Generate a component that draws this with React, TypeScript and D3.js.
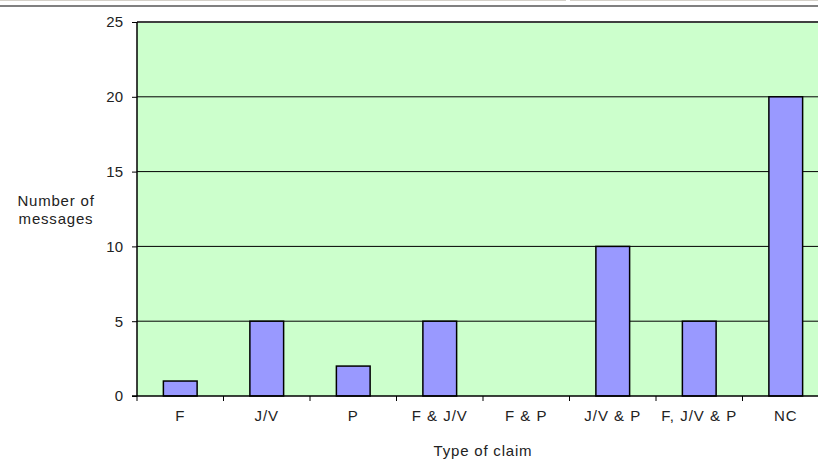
import * as d3 from 'd3'
import { useEffect, useRef } from 'react'

const categories = ['F', 'J/V', 'P', 'F & J/V', 'F & P', 'J/V & P', 'F, J/V & P', 'NC']
const messageCounts = [1, 5, 2, 5, 0, 10, 5, 20]
const yTicks = [0, 5, 10, 15, 20, 25]

const FONT = 'Liberation Sans, Arial, sans-serif'

const App = () => {
  const svgRef = useRef<SVGSVGElement>(null)

  useEffect(() => {
    const width = 818
    const height = 463
    const margin = { top: 22, right: -11, bottom: 67, left: 137 }

    const svg = d3.select(svgRef.current)
    svg.selectAll('*').remove()

    // window frame lines at the top
    svg.append('line').attr('x1', 0).attr('x2', 566).attr('y1', 0.5).attr('y2', 0.5)
      .attr('stroke', '#d4d0c8')
    svg.append('line').attr('x1', 570).attr('x2', width).attr('y1', 0.5).attr('y2', 0.5)
      .attr('stroke', '#d4d0c8')
    svg.append('line').attr('x1', 0).attr('x2', width).attr('y1', 6).attr('y2', 6)
      .attr('stroke', '#808080').attr('stroke-width', 2)

    const x = d3.scaleBand()
      .domain(categories)
      .range([margin.left, width - margin.right])
      .paddingInner(0.61)
      .paddingOuter(0.305)

    const xOuter = d3.scaleBand()
      .domain(categories)
      .range([margin.left, width - margin.right])

    const y = d3.scaleLinear()
      .domain([0, 25])
      .range([height - margin.bottom, margin.top])

    // plot background
    svg.append('rect')
      .attr('x', margin.left)
      .attr('y', y(25))
      .attr('width', width - margin.right - margin.left)
      .attr('height', y(0) - y(25))
      .attr('fill', '#ccffcc')

    // gridlines
    svg.append('g')
      .selectAll('line')
      .data(yTicks.filter(d => d > 0))
      .join('line')
      .attr('x1', margin.left)
      .attr('x2', width)
      .attr('y1', d => y(d))
      .attr('y2', d => y(d))
      .attr('stroke', d => d === 25 ? '#404040' : '#000')
      .attr('stroke-width', d => d === 25 ? 2 : 1)

    // bars
    svg.append('g')
      .selectAll('rect')
      .data(messageCounts)
      .join('rect')
      .attr('x', (d, i) => x(categories[i])!)
      .attr('y', d => y(d))
      .attr('width', x.bandwidth())
      .attr('height', d => y(0) - y(d))
      .attr('fill', '#9999ff')
      .attr('stroke', '#000')
      .attr('stroke-width', d => d > 0 ? 1.5 : 0)

    // y axis
    const yAxis = svg.append('g')
      .attr('transform', `translate(${margin.left}, 0)`)
      .call(d3.axisLeft(y).tickValues(yTicks).tickSize(5).tickPadding(9))
    yAxis.select('.domain').attr('stroke', '#000').attr('stroke-width', 1.5)
      .attr('d', `M0,${y(0)}V${y(25)}`)
    yAxis.selectAll('text')
      .attr('font-family', FONT)
      .attr('font-size', 15)
      .attr('fill', '#222')

    // x axis
    const xAxis = svg.append('g')
      .attr('transform', `translate(0, ${y(0)})`)
      .call(d3.axisBottom(xOuter).tickSize(0).tickPadding(14))
    xAxis.select('.domain').attr('stroke', '#000').attr('stroke-width', 1.5)
      .attr('d', `M${margin.left - 5},0H${width}`)
    xAxis.selectAll('text')
      .attr('font-family', FONT)
      .attr('font-size', 15)
      .attr('letter-spacing', 1)
      .attr('fill', '#222')

    // category separator ticks
    svg.append('g')
      .selectAll('line')
      .data(categories)
      .join('line')
      .attr('x1', d => xOuter(d)!)
      .attr('x2', d => xOuter(d)!)
      .attr('y1', y(0))
      .attr('y2', y(0) + 5)
      .attr('stroke', '#000')

    // axis titles
    const title = svg.append('text')
      .attr('font-family', FONT)
      .attr('font-size', 15)
      .attr('letter-spacing', 0.8)
      .attr('fill', '#222')
      .attr('text-anchor', 'middle')
    title.append('tspan').attr('x', 56).attr('y', 206).text('Number of')
    title.append('tspan').attr('x', 56).attr('y', 224).text('messages')

    svg.append('text')
      .attr('x', 483)
      .attr('y', 456)
      .attr('font-family', FONT)
      .attr('font-size', 15)
      .attr('letter-spacing', 0.8)
      .attr('fill', '#222')
      .attr('text-anchor', 'middle')
      .text('Type of claim')
  }, [])

  return (
    <svg ref={svgRef} width={818} height={463}
      style={{ position: 'absolute', left: 0, top: 0, background: '#fff' }} />
  )
}

export default App
